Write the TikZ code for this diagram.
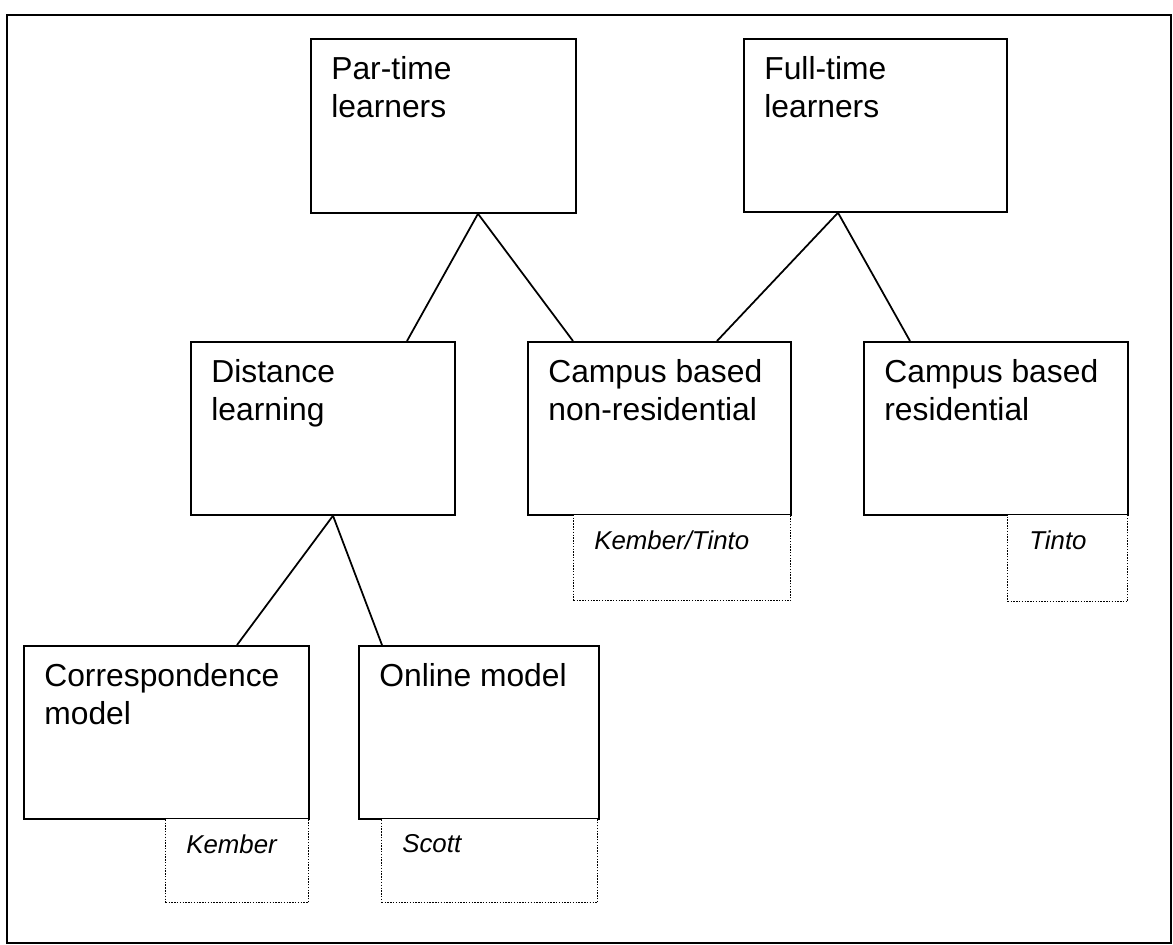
\documentclass[tikz,border=0pt]{standalone}
\usepackage{fontspec}
\setmainfont{Liberation Sans}
\usetikzlibrary{calc}
\begin{document}
\begin{tikzpicture}[x=0.02cm, y=-0.02cm,
  box/.style={draw, line width=1pt, inner sep=0pt, anchor=north west},
  refbox/.style={draw, fill=white, line width=0.8pt, dash pattern=on 0.8pt off 0.8pt,
                 inner sep=0pt, anchor=north west},
  head/.style={anchor=north west, inner sep=0pt, align=left,
               font=\fontsize{18.1}{21.5}\selectfont},
  cite/.style={anchor=north west, inner sep=0pt,
               font=\fontsize{14.7}{17}\selectfont\itshape},
  link/.style={line width=1pt}]
\useasboundingbox (0,0) rectangle (1173,945);
% outer frame
\draw[line width=1.5pt] (7,943) -- (7,15) -- (1171,15) -- (1171,943) -- cycle;

% learner groups
\node[box, minimum width=5.30cm, minimum height=3.48cm] (pt) at (310,38) {};
\node[box, minimum width=5.26cm, minimum height=3.46cm] (ft) at (743,38) {};
% study modes
\node[box, minimum width=5.28cm, minimum height=3.46cm] (dl) at (190,341) {};
\node[box, minimum width=5.26cm, minimum height=3.46cm] (nr) at (527,341) {};
\node[box, minimum width=5.28cm, minimum height=3.46cm] (rs) at (863,341) {};
% distance learning models
\node[box, minimum width=5.70cm, minimum height=3.46cm] (cm) at (23,645) {};
\node[box, minimum width=4.80cm, minimum height=3.46cm] (om) at (358,645) {};

% headings
\node[head] (pt-t) at ($(pt.north west)+(21,18)$) {Par-time\\learners};
\node[head] (ft-t) at ($(ft.north west)+(21,18)$) {Full-time\\learners};
\node[head] (dl-t) at ($(dl.north west)+(21,18)$) {Distance\\learning};
\node[head] (nr-t) at ($(nr.north west)+(21,18)$) {Campus based\\non-residential};
\node[head] (rs-t) at ($(rs.north west)+(21,18)$) {Campus based\\residential};
\node[head] (cm-t) at ($(cm.north west)+(21,18)$) {Correspondence\\model};
\node[head] (om-t) at ($(om.north west)+(21,18)$) {Online model};

% model references
\node[refbox, minimum width=2.86cm, minimum height=1.68cm] (kb) at (165,818) {};
\node[refbox, minimum width=4.32cm, minimum height=1.68cm] (sc) at (381,818) {};
\node[refbox, minimum width=4.34cm, minimum height=1.72cm] (kt) at (573,514) {};
\node[refbox, minimum width=2.40cm, minimum height=1.74cm] (ti) at (1007,514) {};
\node[cite] (kb-t) at ($(kb.north west)+(21,16)$) {Kember};
\node[cite] (sc-t) at ($(sc.north west)+(21,16)$) {Scott};
\node[cite] (kt-t) at ($(kt.north west)+(21,16)$) {Kember/Tinto};
\node[cite] (ti-t) at ($(ti.north west)+(22,16)$) {Tinto};

% tree links
\draw[link] ($(pt.south west)+(168,0)$) -- ($(dl.north west)+(217,0)$);
\draw[link] ($(pt.south west)+(168,0)$) -- ($(nr.north west)+(46,0)$);
\draw[link] ($(ft.south west)+(95,0)$) -- ($(nr.north west)+(190,0)$);
\draw[link] ($(ft.south west)+(95,0)$) -- ($(rs.north west)+(47,0)$);
\draw[link] ($(dl.south west)+(143,0)$) -- ($(cm.north west)+(214,0)$);
\draw[link] ($(dl.south west)+(143,0)$) -- ($(om.north west)+(24,0)$);
\end{tikzpicture}
\end{document}
